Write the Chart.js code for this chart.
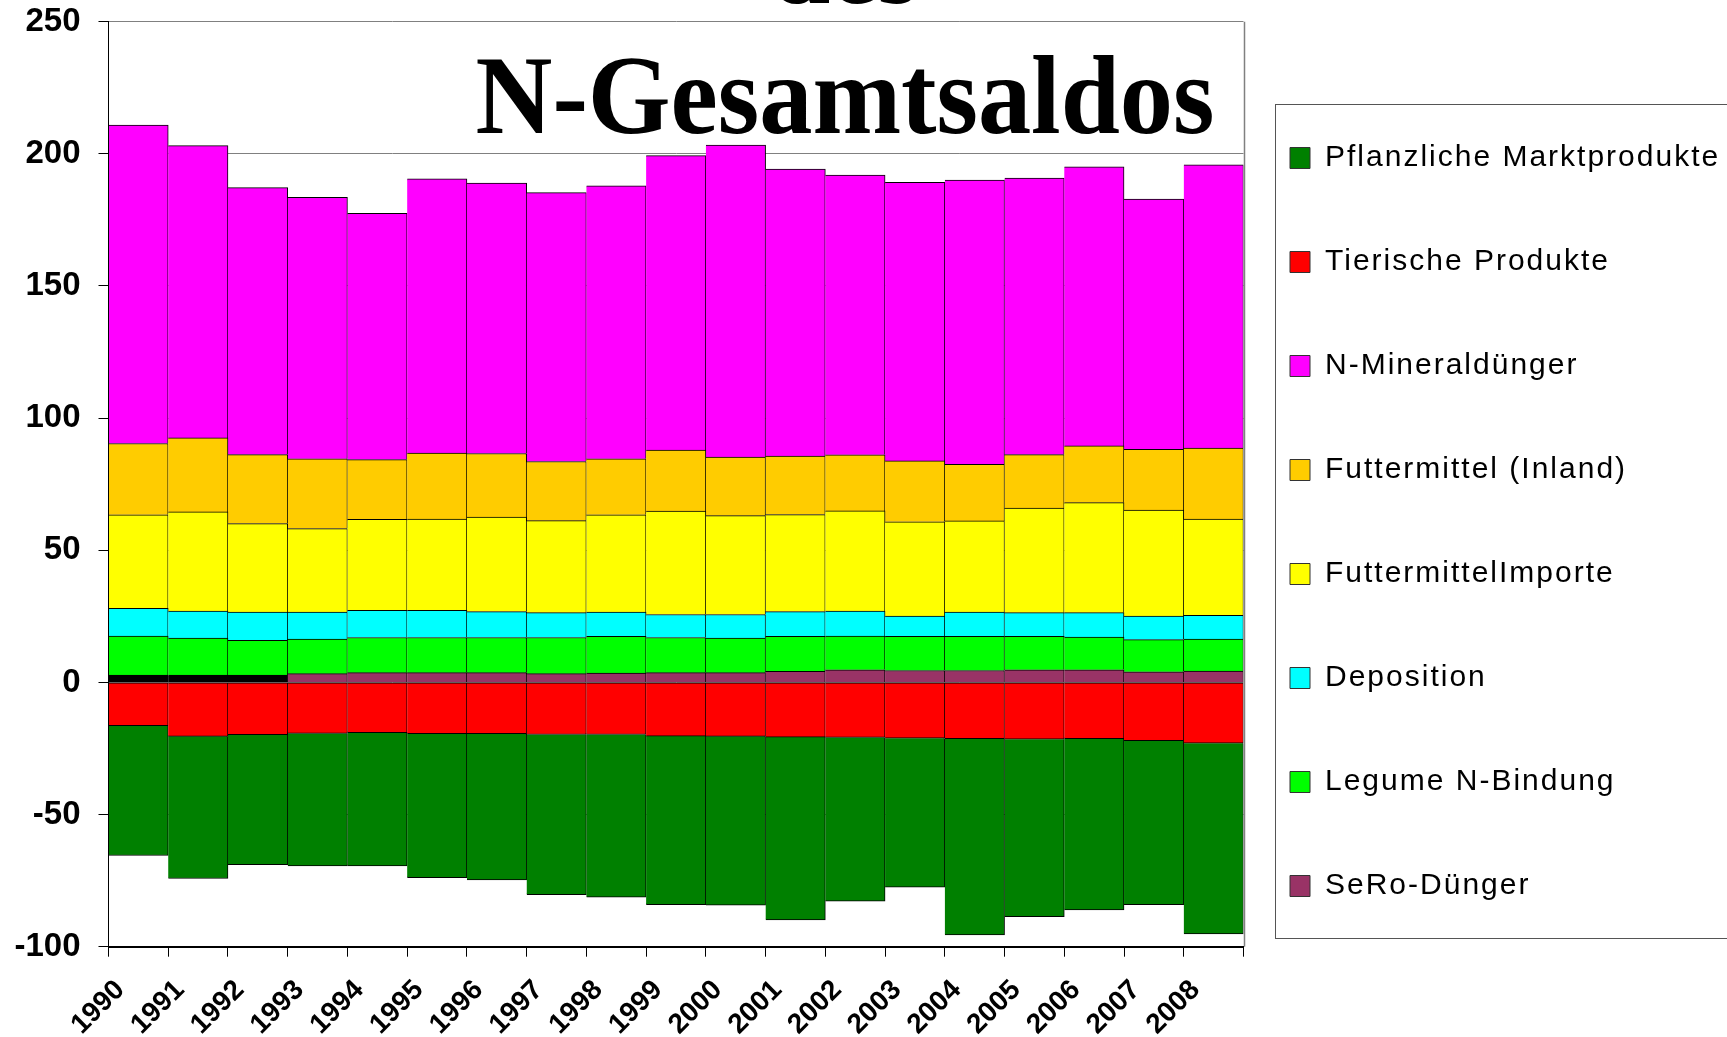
<!DOCTYPE html>
<html><head><meta charset="utf-8">
<script src="https://cdn.jsdelivr.net/npm/chart.js@4.4.0/dist/chart.umd.min.js"></script>
<style>html,body{margin:0;padding:0;background:#fff;overflow:hidden}</style>
</head><body>
<canvas id="c" width="1727" height="1037"></canvas>
<script>
const years = ['1990','1991','1992','1993','1994','1995','1996','1997','1998','1999','2000','2001','2002','2003','2004','2005','2006','2007','2008'];
const yTicks = [-100,-50,0,50,100,150,200,250];
const titleLines = ['des','N-Gesamtsaldos'];

const seroDuenger      = [2.8,2.8,2.8,3.3,3.7,3.7,3.7,3.3,3.5,3.7,3.7,4.2,4.8,4.5,4.5,4.8,4.8,4.0,4.3];
const legumeBindung    = [14.7,14.0,13.1,13.1,13.3,13.3,13.3,13.7,13.9,13.3,13.1,13.2,12.7,12.9,12.9,12.6,12.4,12.2,12.1];
const deposition       = [10.5,10.2,10.7,10.2,10.3,10.3,9.8,9.4,9.2,8.7,8.9,9.4,9.5,7.7,9.2,9.0,9.2,8.9,9.0];
const futterImporte    = [35.4,37.5,33.5,31.6,34.4,34.5,35.8,34.8,36.8,39.1,37.4,36.7,37.9,35.7,34.5,39.6,41.6,40.1,36.4];
const futterInland     = [27.0,28.0,26.1,26.4,22.6,25.0,24.0,22.4,21.2,23.1,22.2,22.1,21.2,23.0,21.4,20.2,21.5,23.0,26.9];
const mineralDuenger   = [120.5,110.6,101.0,98.9,93.2,103.7,102.3,101.7,103.3,111.4,118.0,108.6,105.9,105.4,107.6,104.6,105.6,94.7,107.1];
const tierProdukte     = [-16.4,-20.4,-19.8,-19.3,-19.0,-19.4,-19.4,-19.7,-19.7,-20.3,-20.4,-20.7,-20.8,-21.1,-21.3,-21.5,-21.3,-22.0,-23.0];
const pflanzProdukte   = [-49.1,-53.8,-49.2,-50.1,-50.4,-54.5,-55.3,-60.6,-61.6,-63.8,-63.9,-69.2,-62.0,-56.4,-74.2,-67.1,-64.8,-62.1,-72.2];

const seroColors = years.map((y, i) => i < 3 ? '#000000' : '#993366');

const posBorder = {top: 1, right: 1, bottom: 0, left: 0};
const negBorder = {top: 0, right: 1, bottom: 1, left: 0};
const zeroNegBorder = {top: 1, right: 1, bottom: 1, left: 0};

function ds(label, data, color, bw) {
  return {label, data, backgroundColor: color, borderColor: '#000', borderWidth: bw,
          borderSkipped: false, barPercentage: 1, categoryPercentage: 1};
}

const extras = {
  id: 'extras',
  afterLayout(chart) {
    const lg = chart.legend;
    if (!lg) return;
    const pad = lg.options.labels.padding;
    lg.left = 1290 - pad; lg.top = 69;
    lg.width = 1727 - lg.left; lg.height = 1037 - lg.top;
    lg.right = lg.left + lg.width; lg.bottom = lg.top + lg.height;
    if (!lg._spaced) {
      const orig = lg.draw.bind(lg);
      lg.draw = function(a) { const c = chart.ctx; c.save(); c.letterSpacing = '2px'; orig(a); c.restore(); };
      lg._spaced = true;
    }
  },
  afterDatasetsDraw(chart) {
    const {ctx, chartArea: a} = chart;
    ctx.save();
    ctx.strokeStyle = '#808080'; ctx.lineWidth = 1.5;
    ctx.beginPath(); ctx.moveTo(Math.round(a.right) + 0.5, a.top); ctx.lineTo(Math.round(a.right) + 0.5, a.bottom); ctx.stroke();
    ctx.restore();
  },
  afterDraw(chart) {
    const ctx = chart.ctx;
    ctx.save();
    ctx.strokeStyle = '#555'; ctx.lineWidth = 1;
    ctx.strokeRect(1275.5, 104.5, 500, 834);
    ctx.fillStyle = '#000';
    ctx.font = 'bold 112px "Liberation Serif", "Times New Roman", serif';
    ctx.textAlign = 'center'; ctx.textBaseline = 'alphabetic';
    ctx.translate(845, 0); ctx.scale(0.95, 1);
    ctx.fillText(titleLines[0], 0, 3);
    ctx.fillText(titleLines[1], 0, 133);
    ctx.restore();
  }
};

new Chart(document.getElementById('c'), {
  type: 'bar',
  data: {
    labels: years,
    datasets: [
      ds('SeRo-Dünger', seroDuenger, seroColors, posBorder),
      ds('Legume N-Bindung', legumeBindung, '#00FF00', posBorder),
      ds('Deposition', deposition, '#00FFFF', posBorder),
      ds('FuttermittelImporte', futterImporte, '#FFFF00', posBorder),
      ds('Futtermittel (Inland)', futterInland, '#FFCC00', posBorder),
      ds('N-Mineraldünger', mineralDuenger, '#FF00FF', posBorder),
      ds('Tierische Produkte', tierProdukte, '#FF0000', zeroNegBorder),
      ds('Pflanzliche Marktprodukte', pflanzProdukte, '#008000', negBorder)
    ]
  },
  options: {
    responsive: false, animation: false, devicePixelRatio: 1,
    layout: {padding: {left: 0, top: 21.7, right: 483.5, bottom: 0}},
    plugins: {
      legend: {
        position: 'chartArea', align: 'start', reverse: true,
        labels: {
          color: '#000', boxWidth: 20, boxHeight: 21, padding: 74,
          font: {family: '"Liberation Sans", Arial, sans-serif', size: 30, lineHeight: 1},
          generateLabels(chart) {
            const items = Chart.defaults.plugins.legend.labels.generateLabels(chart);
            items.forEach(it => {
              const d = chart.data.datasets[it.datasetIndex];
              it.fillStyle = Array.isArray(d.backgroundColor) ? d.backgroundColor[d.backgroundColor.length - 1] : d.backgroundColor;
              it.lineWidth = 1; it.strokeStyle = '#333';
            });
            return items;
          }
        }
      },
      title: {display: false}, tooltip: {enabled: false}
    },
    scales: {
      x: {
        stacked: true,
        afterFit(s) { s.height = 90.3; s.paddingLeft = 0; s.paddingRight = 0; },
        grid: {offset: true, drawOnChartArea: false, tickLength: 10, tickColor: '#000', tickWidth: 1},
        border: {color: '#000', width: 2, z: 1},
        ticks: {autoSkip: false, maxRotation: 45, minRotation: 45, padding: 17, labelOffset: -18,
                color: '#000', font: {family: '"Liberation Sans", Arial, sans-serif', size: 28, weight: 'bold'}}
      },
      y: {
        stacked: true, min: -100, max: 250,
        afterFit(s) { s.width = 108.5; s.paddingTop = 0; s.paddingBottom = 0; },
        afterBuildTicks(s) { s.ticks = yTicks.map(v => ({value: v})); },
        grid: {color: '#808080', lineWidth: 1, tickLength: 10, tickColor: '#000'},
        border: {color: '#000', width: 1, z: 1},
        ticks: {padding: 18, color: '#000', font: {family: '"Liberation Sans", Arial, sans-serif', size: 33, weight: 'bold'}}
      }
    }
  },
  plugins: [extras]
});
</script>
</body></html>
